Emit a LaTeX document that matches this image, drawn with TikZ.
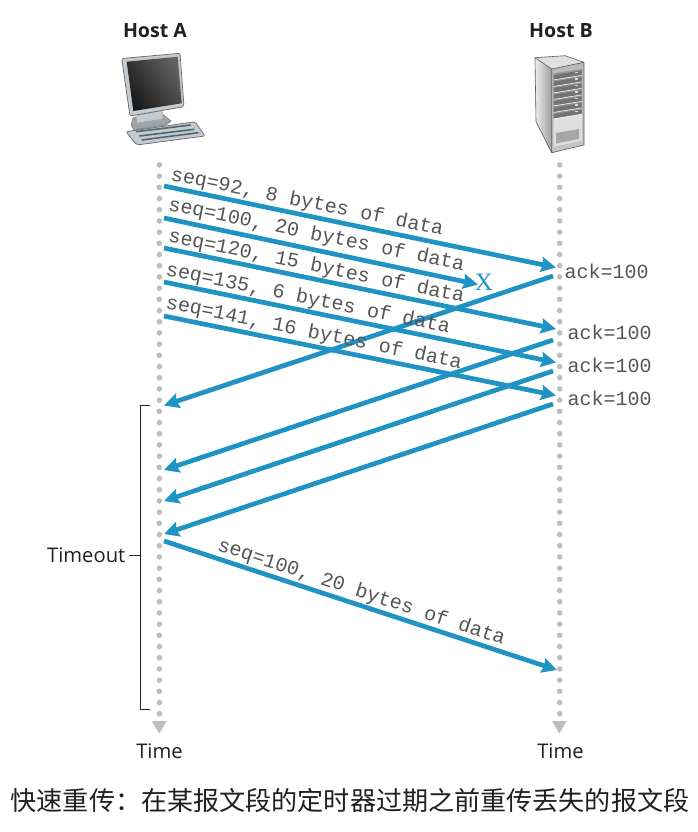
\documentclass[tikz,border=0pt]{standalone}
\usepackage{fontspec}
\setmainfont{Open Sans}
\newfontfamily\monof{Liberation Mono}
\newfontfamily\serf{Liberation Serif}
\newfontfamily\cjk{Noto Sans CJK SC}
\usetikzlibrary{arrows.meta,shadings}
\definecolor{flow}{HTML}{1F93C4}
\definecolor{dotg}{HTML}{BEBEBE}
\definecolor{txt}{HTML}{231F20}
\definecolor{mono}{HTML}{555555}
\definecolor{case}{HTML}{C3CBD0}
\definecolor{keys}{HTML}{4F6670}
\tikzset{
  msg/.style={draw=flow,line width=4.7pt,-{Stealth[length=15pt,width=15pt,inset=2pt]}},
  seqlabel/.style={font=\monof\fontsize{20.1}{20}\selectfont,text=mono,anchor=base west,inner sep=0pt},
  acklabel/.style={font=\monof\fontsize{20}{20}\selectfont,text=mono,anchor=base west,inner sep=0pt},
  sanslabel/.style={font=\fontsize{20.2}{20}\selectfont,text=txt,anchor=base,inner sep=0pt},
  hostlabel/.style={font=\bfseries\fontsize{19.6}{20}\selectfont,text=txt,anchor=base,inner sep=0pt},
  lifedot/.style={fill=dotg,draw=none},
  lifetip/.style={fill=dotg,draw=none},
  bracket/.style={draw=txt,line width=1pt},
}
\begin{document}
\begin{tikzpicture}[x=1pt,y=-1pt]
\useasboundingbox (0,0) rectangle (698,832);
\fill[white] (0,0) rectangle (698,832);

% Hosts
\node[hostlabel] (hosta) at (155,38) {Host A};
\node[hostlabel] (hostb) at (561,38) {Host B};

% computer
\draw[black!55,line width=.5pt,fill=case!80!black] (131,125) -- (133,118) -- (160,112) -- (166,117) -- (171,121) -- (166,125) -- (134,130) -- cycle;
\draw[gray!70,line width=.5pt,fill=case] (136,116) -- (162,110) -- (163,119) -- (137,123) -- cycle;
\draw[black!60,line width=.7pt,fill=case,rounded corners=2pt] (121.7,58.5) -- (180,53.3) -- (184,106.7) -- (130,116) -- cycle;
\shade[shading=axis,left color=black!90,middle color=black!32,right color=black!62,shading angle=125] (126.7,61.7) -- (177.7,56.7) -- (181.7,103.3) -- (133.3,111) -- cycle;
\draw[black!60,line width=.7pt,fill=case,rounded corners=2pt] (126,131.7) -- (195,121.7) -- (205,136) -- (136.7,145) -- cycle;
\draw[keys,line width=1.6pt] (136,131.7) -- (190.7,125) (139.3,136) -- (194.3,129.3) (141.7,140) -- (198.3,132.7);

% server
\fill[gray!25] (535,57.7) -- (565,55.7) -- (584,62.3) -- (551.7,69) -- cycle;
\shade[left color=gray!15,right color=gray!75] (535,57.7) -- (551.7,69) -- (551.7,152.7) -- (536,121.7) -- cycle;
\shade[top color=gray!55,bottom color=gray!45] (551.7,69) -- (584,62.3) -- (584,145) -- (551.7,152.7) -- cycle;
\draw[black!65,line width=.6pt] (535,57.7) -- (565,55.7) -- (584,62.3) -- (584,145) -- (551.7,152.7) -- (536,121.7) -- cycle (535,57.7) -- (551.7,69) -- (551.7,152.7) (551.7,69) -- (584,62.3);
\fill[gray!80] (553.3,73.3) -- (582,69) -- (582,141) -- (553.3,147) -- cycle;
\fill[gray!25] (553.3,119) -- (582,113) -- (582,141) -- (553.3,147) -- cycle;
\fill[gray!70] (556,133) -- (579,129) -- (579,139) -- (556,143.5) -- cycle;
\foreach \r in {0,...,6} {
  \fill[black!55] (553.8,{75+\r*6.5}) -- (581.5,{70.5+\r*6.5}) -- (581.5,{75+\r*6.5}) -- (553.8,{79.5+\r*6.5}) -- cycle;
  \draw[white,line width=.5pt] (553.8,{79.9+\r*6.5}) -- (581.5,{75.4+\r*6.5});
  \fill[white!85!black] (575,{71.8+\r*6.5}) rectangle (578,{73.4+\r*6.5});
}

% lifelines
\foreach \n in {0,...,49} {
  \fill[lifedot] (159.4,{164.9+\n*11.2}) circle (2.8);
  \fill[lifedot] (559.7,{164.9+\n*11.2}) circle (2.8);
}
\fill[lifetip] (151.7,721) -- (167,721) -- (159.3,733.5) -- cycle;
\fill[lifetip] (552,721) -- (566.8,721) -- (559.4,733.5) -- cycle;
\node[sanslabel] (tl) at (159.5,758) {Time};
\node[sanslabel] (tr) at (560.5,758) {Time};

% end points
\coordinate (a1) at (164,186);   \coordinate (b1) at (556,267.5);
\coordinate (a2) at (164,218);   \coordinate (b2) at (478,284.5);
\coordinate (a3) at (164,248);   \coordinate (b3) at (556,329);
\coordinate (a4) at (164,282);   \coordinate (b4) at (556,362.5);
\coordinate (a5) at (164,316);   \coordinate (b5) at (556,395.5);
\coordinate (c1) at (553,276);   \coordinate (d1) at (164,405.5);
\coordinate (c2) at (553,340);   \coordinate (d2) at (164,470);
\coordinate (c3) at (553,371);   \coordinate (d3) at (164,501);
\coordinate (c4) at (553,404);   \coordinate (d4) at (164,534);
\coordinate (a6) at (164,541);   \coordinate (b6) at (557,670);

\draw[msg] (a1) -- (b1);
\draw[msg] (a2) -- (b2);
\draw[msg] (a3) -- (b3);
\draw[msg] (a4) -- (b4);
\draw[msg] (a5) -- (b5);
\draw[msg] (c1) -- (d1);
\draw[msg] (c2) -- (d2);
\draw[msg] (c3) -- (d3);
\draw[msg] (c4) -- (d4);
\draw[msg] (a6) -- (b6);

\node[font=\serf\fontsize{25}{25}\selectfont,text=flow,anchor=base,inner sep=0pt] (lost) at (484,290) {X};

% labels
\node[seqlabel,rotate=-11.5] (s1) at (170,180) {seq=92, 8 bytes of data};
\node[seqlabel,rotate=-11.6] (s2) at (167.5,210) {seq=100, 20 bytes of data};
\node[seqlabel,rotate=-11.6] (s3) at (167.5,241.7) {seq=120, 15 bytes of data};
\node[seqlabel,rotate=-11.6] (s4) at (165,275) {seq=135, 6 bytes of data};
\node[seqlabel,rotate=-11.6] (s5) at (165,308) {seq=141, 16 bytes of data};
\node[seqlabel,rotate=-18.3] (s6) at (216.5,550) {seq=100, 20 bytes of data};
\node[acklabel] (k1) at (564.5,278) {ack=100};
\node[acklabel] (k2) at (567.5,339) {ack=100};
\node[acklabel] (k3) at (567.5,372) {ack=100};
\node[acklabel] (k4) at (567.5,405) {ack=100};

% timeout
\coordinate (bt) at (150,405);
\coordinate (bb) at (150,709);
\coordinate (bm) at (140.3,555);
\draw[bracket] (bt) -- (140.3,405) -- (140.3,709) -- (bb);
\node[sanslabel,anchor=base east] (timeout) at (125.5,562) {Timeout};
\draw[bracket] (timeout.east |- bm) ++(3.5,0) -- (bm);

% caption
\node[font=\cjk\fontsize{26.1}{26}\selectfont,text=txt,anchor=base,inner sep=0pt] (cap) at (350,810) {快速重传：在某报文段的定时器过期之前重传丢失的报文段};
\end{tikzpicture}
\end{document}
